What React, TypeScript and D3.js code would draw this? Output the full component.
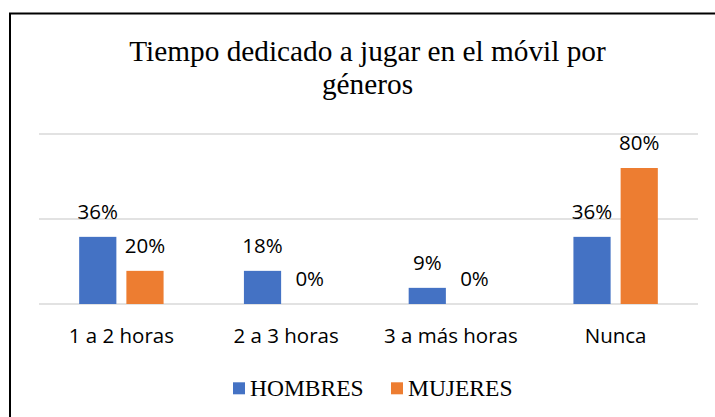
import React from 'react'
import * as d3 from 'd3'

const width = 715
const height = 417

const categories = ['1 a 2 horas', '2 a 3 horas', '3 a más horas', 'Nunca']
const series = ['HOMBRES', 'MUJERES']
const hombres = [0.395, 0.195, 0.095, 0.395]
const mujeres = [0.195, 0, 0, 0.8]
const hombresLabels = ['36%', '18%', '9%', '36%']
const mujeresLabels = ['20%', '0%', '0%', '80%']
const yTicks = [0, 0.5, 1]

const colors = ['#4472C4', '#ED7D31']
const sans = '"Open Sans", "Liberation Sans", sans-serif'
const serif = '"Liberation Serif", "Times New Roman", serif'

const plot = { left: 39, right: 698, top: 134, bottom: 304 }

const App = () => {
  const x0 = d3.scaleBand().domain(categories).range([plot.left, plot.right]).padding(0)
  const x1 = d3
    .scaleBand()
    .domain(series)
    .range([0, x0.bandwidth()])
    .paddingInner(0.212)
    .paddingOuter(0.851)
  const y = d3.scaleLinear().domain([0, 1]).range([plot.bottom, plot.top])

  const values = [hombres, mujeres]
  const labels = [hombresLabels, mujeresLabels]

  // legend layout
  const legendX = [233, 391]

  return (
    <svg
      width={width}
      height={height}
      style={{ position: 'absolute', left: 0, top: 0, background: '#fff' }}
    >
      <rect x={0} y={0} width={width} height={height} fill="#fff" />
      {/* chart frame */}
      <path d={`M10,${height + 2} V13.5 H${width + 2}`} fill="none" stroke="#000" strokeWidth={2} />

      <text
        x={367.5}
        y={61}
        textAnchor="middle"
        fontFamily={serif}
        fontSize={29.3}
        fill="#000"
      >
        Tiempo dedicado a jugar en el móvil por
      </text>
      <text x={367.5} y={94} textAnchor="middle" fontFamily={serif} fontSize={29.3} fill="#000">
        géneros
      </text>

      {yTicks.map(t => (
        <line
          key={t}
          x1={plot.left}
          x2={plot.right}
          y1={y(t)}
          y2={y(t)}
          stroke="#d9d9d9"
          strokeWidth={1.5}
        />
      ))}

      {categories.map((c, i) => (
        <g key={c} transform={`translate(${x0(c)},0)`}>
          {series.map((s, j) => {
            const v = values[j][i]
            const bx = x1(s) as number
            return (
              <g key={s}>
                {v > 0 && (
                  <rect
                    x={bx}
                    y={y(v)}
                    width={x1.bandwidth()}
                    height={y(0) - y(v)}
                    fill={colors[j]}
                  />
                )}
                <text
                  x={bx + x1.bandwidth() / 2}
                  y={y(v) - 18}
                  textAnchor="middle"
                  fontFamily={sans}
                  fontSize={20.5}
                  fill="#000"
                >
                  {labels[j][i]}
                </text>
              </g>
            )
          })}
          <text
            x={x0.bandwidth() / 2}
            y={342.7}
            textAnchor="middle"
            fontFamily={sans}
            fontSize={20.5}
            fill="#000"
          >
            {c}
          </text>
        </g>
      ))}

      {series.map((s, j) => (
        <g key={s} transform={`translate(${legendX[j]},382.3)`}>
          <rect x={0} y={0} width={12} height={12} fill={colors[j]} />
          <text x={17} y={13.7} fontFamily={serif} fontSize={23.5} fill="#000">
            {s}
          </text>
        </g>
      ))}
    </svg>
  )
}

export default App
